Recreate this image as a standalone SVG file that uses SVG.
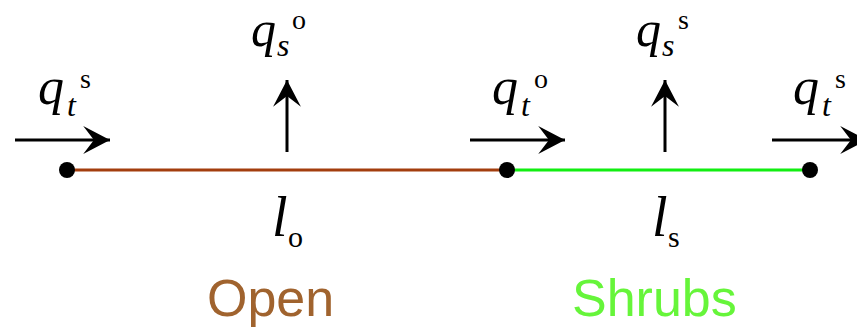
<svg xmlns="http://www.w3.org/2000/svg" width="857" height="330" viewBox="0 0 857 330">
<defs>
<marker id="ah" markerUnits="userSpaceOnUse" markerWidth="30" markerHeight="30" viewBox="-26 -14 28 28" refX="0" refY="0" orient="auto">
<path d="M0,0 L-25,-13 L-15,0 L-25,13 Z" fill="#000"/>
</marker>
</defs>
<style>
.m{font-family:"Liberation Serif","Times New Roman",serif;fill:#000}
.i{font-style:italic}
.arr{stroke:#000;stroke-width:3;fill:none;marker-end:url(#ah)}
.lab{font-family:"Liberation Sans",Arial,sans-serif;font-size:52px}
</style>
<g id="connectors">
<line x1="67" y1="170" x2="507" y2="170" stroke="#A33E0E" stroke-width="3"/>
<line x1="507" y1="170" x2="810" y2="170" stroke="#11EE11" stroke-width="3"/>
<path class="arr" d="M15,140 H110"/>
<path class="arr" d="M470,140 H565"/>
<path class="arr" d="M772,140 H867"/>
<path class="arr" d="M287,152 V80"/>
<path class="arr" d="M665,152 V80"/>
</g>
<g id="node-left"><circle cx="67" cy="170" r="8" fill="#000"/></g>
<g id="node-mid"><circle cx="507" cy="170" r="8" fill="#000"/></g>
<g id="node-right"><circle cx="810" cy="170" r="8" fill="#000"/></g>
<g id="label-qt-s-left">
<text class="m i" x="38" y="104" font-size="52">q</text>
<text class="m i" x="67" y="116" font-size="32">t</text>
<text class="m" x="80" y="88" font-size="28">s</text>
</g>
<g id="label-qs-o">
<text class="m i" x="251" y="46" font-size="50">q</text>
<text class="m i" x="277" y="56" font-size="32">s</text>
<text class="m" x="292" y="29" font-size="28">o</text>
</g>
<g id="label-qt-o">
<text class="m i" x="492" y="104" font-size="52">q</text>
<text class="m i" x="521" y="116" font-size="32">t</text>
<text class="m" x="534" y="88" font-size="28">o</text>
</g>
<g id="label-qs-s">
<text class="m i" x="636" y="46" font-size="50">q</text>
<text class="m i" x="662" y="56" font-size="32">s</text>
<text class="m" x="678" y="29" font-size="28">s</text>
</g>
<g id="label-qt-s-right">
<text class="m i" x="793" y="104" font-size="52">q</text>
<text class="m i" x="822" y="116" font-size="32">t</text>
<text class="m" x="835" y="88" font-size="28">s</text>
</g>
<g id="label-lo">
<text class="m i" x="272" y="236" font-size="56">l</text>
<text class="m" x="288" y="247" font-size="30">o</text>
</g>
<g id="label-ls">
<text class="m i" x="652" y="236" font-size="56">l</text>
<text class="m" x="668" y="247" font-size="30">s</text>
</g>
<g id="label-open"><text class="lab" x="207" y="316" fill="#A0632E">Open</text></g>
<g id="label-shrubs"><text class="lab" x="572" y="316" fill="#66F53A">Shrubs</text></g>
</svg>
